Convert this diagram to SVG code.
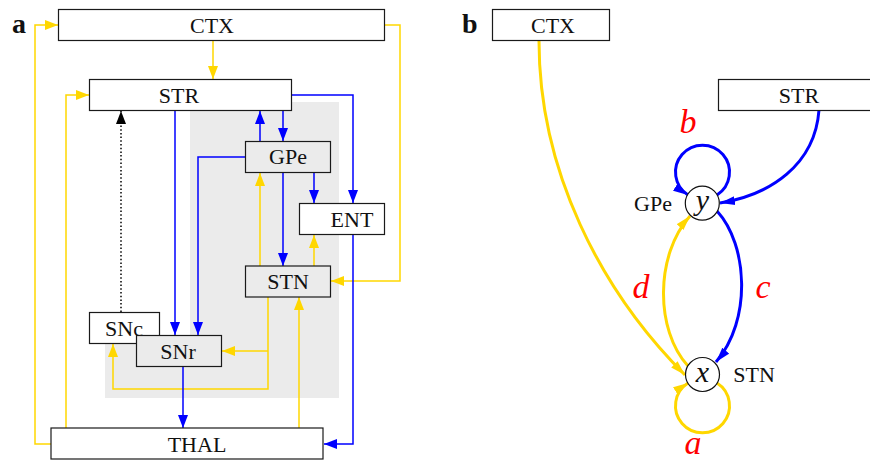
<svg xmlns="http://www.w3.org/2000/svg" width="870" height="461" viewBox="0 0 870 461">
<style>
  .box { stroke: #1a1a1a; stroke-width: 1.2; }
  .w { fill: #ffffff; }
  .g { fill: #ebebeb; }
  .lbl { font-family: "Liberation Serif", "DejaVu Serif", serif; font-size: 22px; fill: #111; text-anchor: middle; }
  .panel { font-family: "Liberation Serif", "DejaVu Serif", serif; font-size: 28px; font-weight: bold; fill: #111; }
  .ya { fill: none; stroke: #FFD700; stroke-width: 1.5; }
  .ba { fill: none; stroke: #0000FF; stroke-width: 1.5; }
  .dot { fill: none; stroke: #000; stroke-width: 1.5; stroke-dasharray: 1.5 2.2; }
  .yb { fill: none; stroke: #FFD700; stroke-width: 3; }
  .bb { fill: none; stroke: #0000FF; stroke-width: 3; }
  .math { font-family: "Liberation Serif", "DejaVu Serif", serif; font-style: italic; fill: #111; text-anchor: middle; }
  .coef { font-family: "Liberation Serif", "DejaVu Serif", serif; font-style: italic; font-size: 34px; fill: #FF0000; text-anchor: middle; }
</style>
<defs>
  <marker id="ay" markerUnits="userSpaceOnUse" markerWidth="13" markerHeight="10" refX="13" refY="5" orient="auto"><path d="M0,0 L13,5 L0,10 z" fill="#FFD700"/></marker>
  <marker id="ab" markerUnits="userSpaceOnUse" markerWidth="13" markerHeight="10" refX="13" refY="5" orient="auto"><path d="M0,0 L13,5 L0,10 z" fill="#0000FF"/></marker>
  <marker id="ak" markerUnits="userSpaceOnUse" markerWidth="13" markerHeight="10" refX="13" refY="5" orient="auto"><path d="M0,0 L13,5 L0,10 z" fill="#000000"/></marker>
  <marker id="byl" markerUnits="userSpaceOnUse" markerWidth="16" markerHeight="10" refX="15" refY="5" orient="auto"><path d="M0,0.5 L15,5 L0,9.5 z" fill="#FFD700"/></marker>
  <marker id="bbl" markerUnits="userSpaceOnUse" markerWidth="16" markerHeight="10" refX="15" refY="5" orient="auto"><path d="M0,0.5 L15,5 L0,9.5 z" fill="#0000FF"/></marker>
</defs>

<!-- panel labels -->
<text class="panel" x="12" y="33">a</text>
<text class="panel" x="462" y="33">b</text>

<!-- panel a: grey region -->
<path d="M190,102 H339 V398 H105 V340 H190 Z" fill="#ebebeb"/>

<!-- panel a connectors -->
<g id="connectors-a">
  <path class="ya" d="M51,444 H35 V25 H58" marker-end="url(#ay)"/>
  <path class="ya" d="M66,428 V95 H89" marker-end="url(#ay)"/>
  <path class="ya" d="M213,41 V79" marker-end="url(#ay)"/>
  <path class="ya" d="M385,25 H400 V281 H331" marker-end="url(#ay)"/>
  <path class="ya" d="M260,266 V173" marker-end="url(#ay)"/>
  <path class="ya" d="M314,266 V235" marker-end="url(#ay)"/>
  <path class="ya" d="M268,297 V389 H113 V344" marker-end="url(#ay)"/>
  <path class="ya" d="M268,351 H222" marker-end="url(#ay)"/>
  <path class="ya" d="M299,428 V297" marker-end="url(#ay)"/>
  <path class="ba" d="M283,111 V141" marker-end="url(#ab)"/>
  <path class="ba" d="M260,141 V111" marker-end="url(#ab)"/>
  <path class="ba" d="M175,111 V335" marker-end="url(#ab)"/>
  <path class="ba" d="M245,157 H198 V335" marker-end="url(#ab)"/>
  <path class="ba" d="M292,95 H353 V203" marker-end="url(#ab)"/>
  <path class="ba" d="M353,235 V444 H324" marker-end="url(#ab)"/>
  <path class="ba" d="M314,173 V203" marker-end="url(#ab)"/>
  <path class="ba" d="M283,173 V266" marker-end="url(#ab)"/>
  <path class="ba" d="M183,367 V428" marker-end="url(#ab)"/>
  <path class="dot" d="M121,312 V111" marker-end="url(#ak)"/>
</g>

<!-- panel a nodes -->
<g id="a-CTX"><rect class="box w" x="58.5" y="9.5" width="326" height="31"/><text class="lbl" x="212" y="33">CTX</text></g>
<g id="a-STR"><rect class="box w" x="89.5" y="79.5" width="202" height="31"/><text class="lbl" x="179" y="103">STR</text></g>
<g id="a-GPe"><rect class="box g" x="245.5" y="141.5" width="85" height="31"/><text class="lbl" x="288" y="164">GPe</text></g>
<g id="a-ENT"><rect class="box w" x="299.5" y="203.5" width="85" height="31"/><text class="lbl" x="352" y="227">ENT</text></g>
<g id="a-STN"><rect class="box g" x="245.5" y="266" width="85" height="31"/><text class="lbl" x="288" y="289">STN</text></g>
<g id="a-SNc"><rect class="box w" x="89.5" y="312.5" width="70" height="31"/><text class="lbl" x="124" y="336">SNc</text></g>
<g id="a-SNr"><rect class="box g" x="136.5" y="335.5" width="85" height="31"/><text class="lbl" x="178" y="359">SNr</text></g>
<g id="a-THAL"><rect class="box w" x="51" y="428" width="272" height="31"/><text class="lbl" x="197" y="452">THAL</text></g>

<!-- panel b connectors -->
<g id="connectors-b">
  <path class="yb" d="M539,41 C539,170 600,290 685,375" marker-end="url(#byl)"/>
  <path class="bb" d="M819,110 C815,165 770,195 720,203" marker-end="url(#bbl)"/>
  <path class="bb" d="M717,195 A27,27 0 1 0 688,195" marker-end="url(#bbl)"/>
  <path class="yb" d="M717,383 A27,27 0 1 1 688,383" marker-end="url(#byl)"/>
  <path class="bb" d="M717,211 C748,245 752,320 716,362" marker-end="url(#bbl)"/>
  <path class="yb" d="M688,366 C655,330 655,255 690,216" marker-end="url(#byl)"/>
</g>
<text class="coef" x="688" y="133">b</text>
<text class="coef" x="641" y="298">d</text>
<text class="coef" x="763" y="298">c</text>
<text class="coef" x="693" y="454">a</text>

<!-- panel b nodes -->
<g id="b-CTX"><rect class="box w" x="492.5" y="9.5" width="117" height="31"/><text class="lbl" x="553" y="33">CTX</text></g>
<g id="b-STR"><rect class="box w" x="718.5" y="79.5" width="160" height="31"/><text class="lbl" x="799" y="103">STR</text></g>
<g id="b-GPe"><circle cx="702.3" cy="203.2" r="17" fill="#fff" stroke="#111" stroke-width="1.2"/><text class="math" x="702.3" y="210" font-size="30">y</text><text class="lbl" x="653" y="211">GPe</text></g>
<g id="b-STN"><circle cx="702.5" cy="374.5" r="17" fill="#fff" stroke="#111" stroke-width="1.2"/><text class="math" x="702.5" y="382" font-size="30">x</text><text class="lbl" x="754" y="382">STN</text></g>
</svg>
